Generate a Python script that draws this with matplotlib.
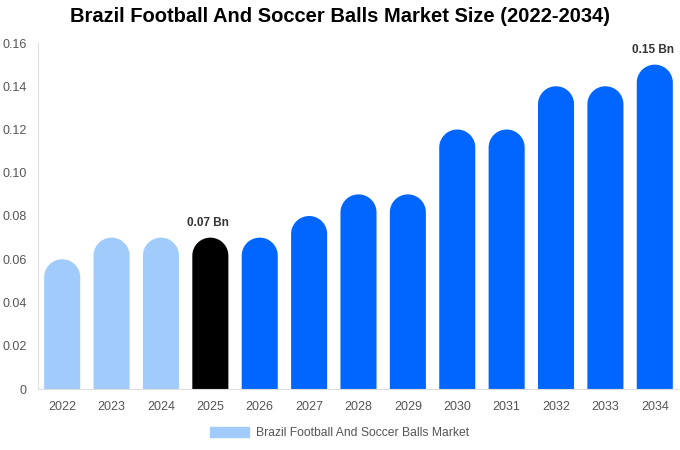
import numpy as np
import matplotlib.pyplot as plt
from matplotlib.patches import Polygon, Patch

plt.rcParams['font.family'] = ['Liberation Sans', 'DejaVu Sans']

years = ['2022', '2023', '2024', '2025', '2026', '2027', '2028', '2029',
         '2030', '2031', '2032', '2033', '2034']
values = [0.06, 0.07, 0.07, 0.07, 0.07, 0.08, 0.09, 0.09, 0.12, 0.12, 0.14, 0.14, 0.15]
colors = ['#a0cbfb'] * 3 + ['#000000'] + ['#0066ff'] * 9
labels = {3: '0.07 Bn', 12: '0.15 Bn'}
legend_label = 'Brazil Football And Soccer Balls Market'

fig = plt.figure(figsize=(6.8, 4.5), dpi=100)
ax = fig.add_axes([38/680, 61/450, 640/680, 346/450])

ymax = 0.16
ax.set_xlim(-0.49, 12.47)
ax.set_ylim(0, ymax)

w = 0.73
# radius of the round top in data units (18 px)
ry = 18 / 346 * ymax
t = np.linspace(0, np.pi, 40)

x = np.arange(len(years))
for i, v in enumerate(values):
    cx, cy = x[i], v - ry
    arc = np.column_stack([cx + w / 2 * np.cos(t), cy + ry * np.sin(t)])
    pts = np.vstack([[cx + w / 2, 0], arc, [cx - w / 2, 0]])
    ax.add_patch(Polygon(pts, closed=True, facecolor=colors[i], lw=0))
    if i in labels:
        ax.text(cx - 0.04, v + 0.004, labels[i], ha='center', va='bottom',
                fontsize=8.5, fontweight='bold', color='#333333')

ax.set_xticks(x)
ax.set_xticklabels(years)
ax.set_yticks(np.arange(0, 0.161, 0.02))
ax.set_yticklabels(['0', '0.02', '0.04', '0.06', '0.08', '0.10', '0.12', '0.14', '0.16'])
ax.tick_params(length=0, labelsize=9, colors='#555555')
ax.tick_params(axis='x', pad=9)
ax.tick_params(axis='y', pad=8)

for s in ['top', 'right']:
    ax.spines[s].set_visible(False)
for s in ['left', 'bottom']:
    ax.spines[s].set_color('#dddddd')

fig.suptitle('Brazil Football And Soccer Balls Market Size (2022-2034)',
             x=0.5, y=0.985, fontsize=14.5, fontweight='bold')

fig.legend(handles=[Patch(color='#a0cbfb', label=legend_label)],
           loc='center', bbox_to_anchor=(0.5, 17/450), frameon=False,
           fontsize=8.7, labelcolor='#555555', handlelength=3.2, handleheight=0.9,
           handletextpad=0.6)

fig.savefig('out.png', dpi=100)
